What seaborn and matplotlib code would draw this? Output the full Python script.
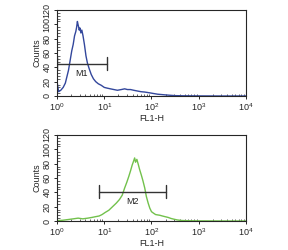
import matplotlib
matplotlib.use("Agg")
import matplotlib.pyplot as plt
import seaborn as sns
import pandas as pd
import numpy as np
from matplotlib.ticker import LogLocator, MultipleLocator, NullFormatter

# FL1-H channel values and counts
fl_top = [1.0, 1.0, 1.08, 1.2, 1.35, 1.5, 1.62, 1.75, 1.9, 2.05, 2.2, 2.35, 2.5, 2.6,
          2.7, 2.78, 2.85, 2.95, 3.05, 3.2, 3.35, 3.55, 3.8, 4.1, 4.4, 4.8, 5.3, 5.9,
          6.6, 7.5, 8.6, 10.0, 11.5, 13.5, 16, 19, 23, 27, 31, 36, 42, 50, 60, 72,
          90, 110, 135, 165, 200, 250, 320, 450, 700, 1200, 3000, 10000]
cnt_top = [0, 20, 6, 8, 12, 18, 27, 36, 50, 63, 72, 84, 90, 96,
           104, 100, 97, 92, 95, 88, 92, 84, 72, 56, 46, 38, 30, 24,
           20, 17, 15, 12, 11, 10, 9, 8, 9, 10, 9, 9, 8, 7, 6, 5.5,
           4.5, 3.5, 2.5, 2, 1.5, 1, 0.5, 0.3, 0.2, 0.1, 0, 0]

fl_bot = [1.0, 1.3, 1.7, 2.2, 2.8, 3.5, 4.5, 5.5, 6.5, 7.8, 9.0, 10.5, 12.5,
          15, 18, 21, 24, 27, 30, 33, 36, 39, 42, 44, 46, 49, 52, 56, 61, 66,
          72, 78, 85, 92, 100, 110, 122, 135, 150, 170, 195, 225, 260, 300,
          350, 420, 520, 700, 1000, 2000, 5000, 10000]
cnt_bot = [0.5, 1, 2, 3, 4, 3, 4, 5, 6, 7, 9, 12, 15,
           20, 25, 30, 36, 46, 54, 62, 70, 78, 84, 88, 82, 86, 80, 72, 64, 56,
           46, 34, 25, 18, 13, 11, 9, 8.5, 8, 7, 6, 5, 3.5, 2.5,
           1.5, 0.8, 0.5, 0.3, 0.2, 0.1, 0, 0]

marker_top = (1.0, 11.2, 45)   # start, end, level
marker_bot = (7.8, 203, 41)

sns.set_style("ticks")
plt.rcParams['font.family'] = ['Liberation Sans', 'DejaVu Sans']

fig = plt.figure(figsize=(2.88, 2.5), dpi=100)
ax1 = fig.add_axes([0.198, 0.616, 0.656, 0.344])
ax2 = fig.add_axes([0.198, 0.116, 0.656, 0.344])

df_top = pd.DataFrame({"FL1-H": fl_top, "Counts": cnt_top})
df_bot = pd.DataFrame({"FL1-H": fl_bot, "Counts": cnt_bot})

sns.lineplot(data=df_top, x="FL1-H", y="Counts", ax=ax1, color="#33479c",
             linewidth=1.0, sort=False, estimator=None)
sns.lineplot(data=df_bot, x="FL1-H", y="Counts", ax=ax2, color="#72c14c",
             linewidth=1.0, sort=False, estimator=None)

for ax, mk, lab in [(ax1, marker_top, "M1"), (ax2, marker_bot, "M2")]:
    x0, x1, lvl = mk
    ax.plot([x0, x1], [lvl, lvl], color="#333333", lw=1.0)
    ax.plot([x0, x0], [lvl - 9, lvl + 9], color="#333333", lw=1.0)
    ax.plot([x1, x1], [lvl - 9, lvl + 9], color="#333333", lw=1.0)
    xm = np.sqrt(x0 * x1)
    ax.text(xm, lvl - 8, lab, ha="center", va="top", fontsize=6.5, color="#222222")

    ax.set_xscale("log")
    ax.set_xlim(1, 10000)
    ax.set_ylim(0, 120)
    ax.yaxis.set_major_locator(MultipleLocator(20))
    ax.yaxis.set_minor_locator(MultipleLocator(4))
    ax.xaxis.set_major_locator(LogLocator(base=10))
    ax.xaxis.set_minor_locator(LogLocator(base=10, subs=range(2, 10)))
    ax.xaxis.set_minor_formatter(NullFormatter())
    ax.tick_params(axis="both", which="major", labelsize=6.5, length=2.5,
                   width=0.7, pad=1.5, direction="out")
    ax.tick_params(axis="both", which="minor", length=1.8, width=0.5, direction="in")
    for lbl in ax.get_yticklabels():
        lbl.set_rotation(90)
        lbl.set_va("center")
    ax.set_xlabel("FL1-H", fontsize=6.5, labelpad=0.5)
    ax.set_ylabel("Counts", fontsize=6.5, labelpad=1)
    for s in ax.spines.values():
        s.set_linewidth(0.8)
        s.set_visible(True)

fig.savefig("out.png", dpi=100)
